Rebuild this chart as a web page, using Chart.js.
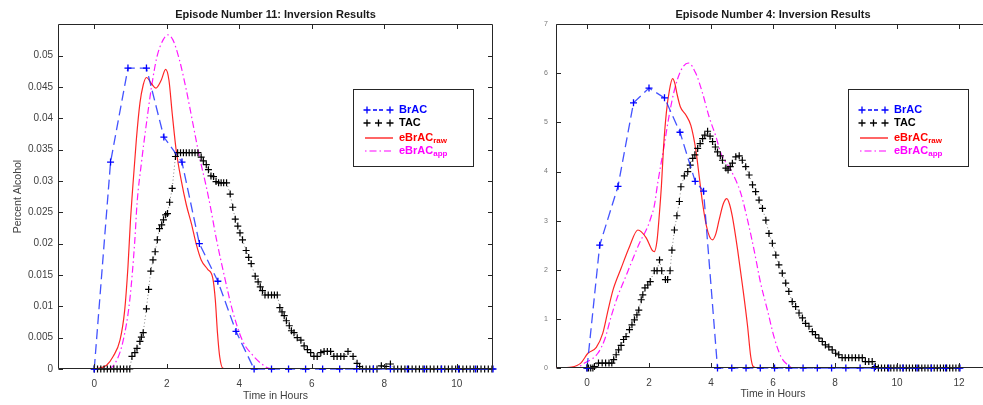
<!DOCTYPE html>
<html>
<head>
<meta charset="utf-8">
<script src="https://cdn.jsdelivr.net/npm/chart.js@4.4.0/dist/chart.umd.min.js"></script>
<style>
  html, body { margin: 0; padding: 0; background: #fff; overflow: hidden; width: 983px; height: 405px; }
  .box { position: absolute; top: 0; width: 500px; height: 405px; }
  #leftBox { left: 0; }
  #rightBox { left: 500px; }
</style>
</head>
<body>
<div class="box" id="leftBox"><canvas id="ep11" width="500" height="405"></canvas></div>
<div class="box" id="rightBox"><canvas id="ep4" width="500" height="405"></canvas></div>
<script>
// EPISODE 11 (LEFT PANEL)
const brac11Time = [0, 0.45, 0.93, 1.44, 1.92, 2.42, 2.90, 3.41, 3.91, 4.41, 4.89, 5.36, 5.83, 6.30, 6.77, 7.24, 7.70, 8.17, 8.64, 9.11, 9.58, 10.05, 10.52, 11.0];
const brac11 = [0, 0.033, 0.048, 0.048, 0.037, 0.033, 0.020, 0.014, 0.006, 0, 0, 0, 0, 0, 0, 0, 0, 0, 0, 0, 0, 0, 0, 0];

const tac11Time = [0, 0.09, 0.18, 0.27, 0.36, 0.45, 0.54, 0.63, 0.72, 0.81, 0.90, 0.98,
  1.04, 1.12, 1.18, 1.26, 1.30, 1.35, 1.44, 1.50, 1.56, 1.62, 1.68, 1.74, 1.80, 1.86, 1.91, 1.97, 2.02, 2.08, 2.15, 2.24,
  2.30, 2.38, 2.46, 2.54, 2.62, 2.70, 2.78, 2.86,
  2.95, 3.01, 3.09, 3.15, 3.22, 3.29, 3.36, 3.43, 3.50, 3.57, 3.65, 3.75, 3.82, 3.89, 3.96, 4.02, 4.09, 4.19, 4.26, 4.33, 4.44, 4.52, 4.58, 4.64,
  4.71, 4.80, 4.89, 4.97, 5.05,
  5.12, 5.18, 5.24, 5.30, 5.38, 5.44, 5.51, 5.60, 5.70, 5.79, 5.88, 5.97, 6.06, 6.15, 6.25, 6.34, 6.43, 6.52, 6.61, 6.70, 6.80, 6.89, 7.00, 7.14, 7.25, 7.32,
  7.40, 7.50, 7.60, 7.70, 7.80, 7.92, 8.05, 8.17, 8.27, 8.37, 8.47, 8.57, 8.67, 8.77, 8.87, 8.97, 9.07, 9.17, 9.27, 9.37, 9.47, 9.57, 9.67, 9.77, 9.87, 9.97,
  10.07, 10.17, 10.27, 10.37, 10.47, 10.57, 10.67, 10.77, 10.87, 10.97];
const tac11 = [0, 0, 0, 0, 0, 0, 0, 0, 0, 0, 0, 0,
  0.0020, 0.0026, 0.0033, 0.0044, 0.0051, 0.0058, 0.0096, 0.0127, 0.0156, 0.0174, 0.0187, 0.0206, 0.0224, 0.0230, 0.0238, 0.0246, 0.0248, 0.0266, 0.0288, 0.0339,
  0.0345, 0.0345, 0.0345, 0.0345, 0.0345, 0.0345, 0.0345, 0.0345,
  0.0338, 0.0332, 0.0326, 0.0318, 0.0308, 0.0307, 0.0299, 0.0297, 0.0297, 0.0297, 0.0297, 0.0279, 0.0258, 0.0239, 0.0228, 0.0217, 0.0206, 0.0189, 0.0178, 0.0168, 0.0148, 0.0139, 0.0131, 0.0125,
  0.0118, 0.0118, 0.0118, 0.0118, 0.0118,
  0.0098, 0.0091, 0.0085, 0.0077, 0.0069, 0.0061, 0.0058, 0.0050, 0.0046, 0.0037, 0.0031, 0.0026, 0.0020, 0.0020, 0.0026, 0.0028, 0.0028, 0.0028, 0.0020, 0.0020, 0.0020, 0.0020, 0.0028, 0.0020, 0.0009, 0.0004,
  0, 0, 0, 0, 0, 0.0005, 0.0004, 0.0008, 0, 0, 0, 0, 0, 0, 0, 0, 0, 0, 0, 0, 0, 0, 0, 0, 0, 0,
  0, 0, 0, 0, 0, 0, 0, 0, 0, 0];

const raw11Time = [0, 0.34, 0.52, 0.71, 0.84, 0.93, 1.00, 1.05, 1.16, 1.26, 1.35, 1.44, 1.58, 1.70, 1.85, 1.97, 2.06, 2.15, 2.26, 2.40, 2.54, 2.68, 2.81, 2.95, 3.13, 3.27, 3.34, 3.40, 3.46, 3.55, 3.70, 11.0];
const raw11 = [0, 0.0006, 0.0020, 0.0046, 0.0094, 0.0163, 0.0238, 0.0280, 0.0365, 0.0424, 0.0453, 0.0465, 0.0455, 0.0448, 0.0461, 0.0478, 0.0461, 0.0408, 0.0349, 0.0301, 0.0262, 0.0232, 0.0200, 0.0174, 0.0159, 0.0145, 0.0110, 0.0057, 0.0020, 0.0001, 0, 0];

const app11Time = [0, 0.38, 0.62, 0.80, 0.98, 1.12, 1.18, 1.30, 1.44, 1.58, 1.73, 1.90, 2.03, 2.17, 2.35, 2.54, 2.72, 2.90, 3.09, 3.22, 3.36, 3.59, 3.82, 4.09, 4.37, 4.60, 4.82, 5.00, 11.0];
const app11 = [0, 0, 0.0014, 0.0046, 0.0110, 0.0206, 0.0264, 0.0328, 0.0392, 0.0450, 0.0498, 0.0525, 0.0533, 0.0525, 0.0493, 0.0445, 0.0392, 0.0339, 0.0291, 0.0254, 0.0210, 0.0148, 0.0092, 0.0045, 0.0022, 0.0009, 0.0001, 0, 0];

const xTicks11 = [0, 2, 4, 6, 8, 10];
const yTicks11 = [0, 0.005, 0.01, 0.015, 0.02, 0.025, 0.03, 0.035, 0.04, 0.045, 0.05];

// EPISODE 4 (RIGHT PANEL)
const brac4Time = [0, 0.41, 1.0, 1.5, 2.0, 2.5, 3.0, 3.49, 3.76, 4.21, 4.67, 5.13, 5.59, 6.05, 6.51, 6.97, 7.43, 7.89, 8.35, 8.81, 9.27, 9.73, 10.19, 10.65, 11.11, 11.57, 12.03];
const brac4 = [0, 0.025, 0.037, 0.054, 0.057, 0.055, 0.048, 0.038, 0.036, 0, 0, 0, 0, 0, 0, 0, 0, 0, 0, 0, 0, 0, 0, 0, 0, 0, 0];

const tac4Time = [0, 0.05, 0.12, 0.19, 0.24, 0.37, 0.49, 0.60, 0.71, 0.80, 0.86, 0.94, 1.02, 1.10, 1.18, 1.26, 1.37, 1.45, 1.53, 1.61, 1.67, 1.75, 1.80, 1.87, 1.96, 2.04,
  2.17, 2.26, 2.34, 2.41, 2.53, 2.60, 2.68, 2.74, 2.82, 2.90, 2.98, 3.03, 3.14, 3.25, 3.33, 3.41, 3.48, 3.57, 3.65, 3.73, 3.80, 3.89, 3.97,
  4.05, 4.14, 4.21, 4.30, 4.37, 4.48, 4.55, 4.62, 4.69, 4.80, 4.91, 5.01, 5.12, 5.23, 5.34, 5.44, 5.55, 5.66, 5.77, 5.87, 5.98,
  6.09, 6.19, 6.30, 6.41, 6.51, 6.62, 6.73, 6.84, 6.95, 7.05, 7.16, 7.27, 7.37, 7.48, 7.59, 7.69, 7.80, 7.91, 8.02, 8.12, 8.23,
  8.33, 8.44, 8.55, 8.66, 8.77, 8.88, 8.98, 9.09, 9.20, 9.30,
  9.4, 9.5, 9.6, 9.7, 9.8, 9.9, 10.0, 10.1, 10.2, 10.3, 10.4, 10.5, 10.6, 10.7, 10.8, 10.9, 11.0, 11.1, 11.2, 11.3, 11.4, 11.5, 11.6, 11.7, 11.8, 11.9, 12.0];
const tac4 = [0, 0, 0, 0, 0.0003, 0.001, 0.001, 0.001, 0.001, 0.001, 0.0017, 0.0027, 0.0037, 0.0046, 0.0058, 0.0064, 0.0078, 0.0088, 0.0098, 0.0108, 0.0118, 0.0139, 0.0149, 0.0163, 0.0169, 0.0176,
  0.0198, 0.0198, 0.0220, 0.0198, 0.0180, 0.0180, 0.0198, 0.0240, 0.0281, 0.0310, 0.0339, 0.0369, 0.0391, 0.0400, 0.0413, 0.0427, 0.0434, 0.0447, 0.0457, 0.0467, 0.0474, 0.0482, 0.0472,
  0.0461, 0.0450, 0.0440, 0.0432, 0.0423, 0.0407, 0.0403, 0.0410, 0.0417, 0.0430, 0.0432, 0.0423, 0.0410, 0.0393, 0.0373, 0.0359, 0.0342, 0.0325, 0.0301, 0.0274, 0.0254,
  0.0230, 0.0210, 0.0193, 0.0173, 0.0156, 0.0135, 0.0125, 0.0112, 0.0102, 0.0091, 0.0085, 0.0074, 0.0068, 0.0061, 0.0054, 0.0047, 0.0043, 0.0037, 0.0030, 0.0027, 0.0021,
  0.0021, 0.0021, 0.0021, 0.0021, 0.0021, 0.0021, 0.0013, 0.0013, 0.0013, 0.0003,
  0, 0, 0, 0, 0, 0, 0, 0, 0, 0, 0, 0, 0, 0, 0, 0, 0, 0, 0, 0, 0, 0, 0, 0, 0, 0, 0];

const raw4Time = [-1, -0.5, -0.2, 0.03, 0.30, 0.51, 0.68, 0.84, 1.10, 1.37, 1.64, 1.91, 2.10, 2.17, 2.26, 2.33, 2.40, 2.47, 2.56, 2.66, 2.76, 2.84, 2.90, 3.01, 3.19, 3.35, 3.51, 3.62, 3.73, 3.85, 3.95, 4.05, 4.15, 4.26, 4.40, 4.51, 4.60, 4.69, 4.86, 5.02, 5.18, 5.28, 5.36, 5.50, 13.0];
const raw4 = [0, 0.0002, 0.0010, 0.0030, 0.0042, 0.0071, 0.0118, 0.0159, 0.0203, 0.0247, 0.0281, 0.0265, 0.0240, 0.0237, 0.0260, 0.0310, 0.0370, 0.0450, 0.0520, 0.0566, 0.0589, 0.0578, 0.0559, 0.0532, 0.0515, 0.0494, 0.0444, 0.0390, 0.0335, 0.0290, 0.0268, 0.0261, 0.0272, 0.0301, 0.0335, 0.0345, 0.0333, 0.0308, 0.0240, 0.0166, 0.0085, 0.0024, 0.0003, 0, 0];

const app4Time = [-1, -0.4, -0.08, 0.35, 0.57, 0.78, 0.99, 1.21, 1.42, 1.69, 1.96, 2.07, 2.17, 2.28, 2.50, 2.66, 2.82, 3.03, 3.27, 3.51, 3.73, 3.94, 4.16, 4.32, 4.64, 4.96, 5.18, 5.39, 5.60, 5.82, 6.03, 6.25, 6.46, 6.70, 13.0];
const app4 = [0, 0, 0.0010, 0.0030, 0.0058, 0.0105, 0.0146, 0.0180, 0.0213, 0.0254, 0.0288, 0.0308, 0.0330, 0.0376, 0.0457, 0.0518, 0.0566, 0.0606, 0.0621, 0.0600, 0.0559, 0.0511, 0.0471, 0.0437, 0.0403, 0.0356, 0.0301, 0.0240, 0.0173, 0.0118, 0.0064, 0.0024, 0.0007, 0, 0];

const xTicks4 = [0, 2, 4, 6, 8, 10, 12];
const yTicks4 = [0, 0.01, 0.02, 0.03, 0.04, 0.05, 0.06, 0.07];

const seriesNames = ['BrAC', 'TAC', 'eBrAC', 'eBrAC'];
const seriesSubs = ['', '', 'raw', 'app'];
const seriesColors = ['#0000ff', '#000000', '#ff0000', '#ff00ff'];

Chart.defaults.font.family = "'Liberation Sans', Arial, Helvetica, sans-serif";

function pts(times, values) {
    return times.map((t, i) => ({ x: t, y: values[i] }));
}

// DRAW MATLAB STYLE BOX, INWARD TICKS AND LEGEND
const matlabFrame = {
    id: 'matlabFrame',
    afterDatasetsDraw(chart) {
        const { ctx, chartArea: a, scales: { x, y } } = chart;
        const L = Math.round(a.left) + 0.5, R = Math.round(a.right) - 0.5;
        const T = Math.round(a.top) + 0.5, B = Math.round(a.bottom) - 0.5;
        ctx.save();
        ctx.strokeStyle = '#262626';
        ctx.lineWidth = 1;
        ctx.beginPath();
        ctx.rect(L, T, R - L, B - T);
        x.ticks.forEach(t => {
            const px = Math.round(x.getPixelForValue(t.value)) + 0.5;
            ctx.moveTo(px, B); ctx.lineTo(px, B - 4.5);
            ctx.moveTo(px, T); ctx.lineTo(px, T + 4.5);
        });
        y.ticks.forEach(t => {
            const py = Math.round(y.getPixelForValue(t.value)) + 0.5;
            ctx.moveTo(L, py); ctx.lineTo(L + 4.5, py);
            ctx.moveTo(R, py); ctx.lineTo(R - 4.5, py);
        });
        ctx.stroke();
        ctx.restore();
    },
    afterDraw(chart, args, opts) {
        const ctx = chart.ctx;
        const bx = opts.x, by = opts.y, sx = bx + 12, tx = bx + 46;
        const rows = [by + 21, by + 34, by + 49, by + 62];
        ctx.save();
        ctx.fillStyle = '#fff';
        ctx.fillRect(bx, by, 120, 77);
        ctx.strokeStyle = '#262626';
        ctx.lineWidth = 1;
        ctx.strokeRect(bx + 0.5, by + 0.5, 120, 77);

        const cross = (cx, cy, color) => {
            ctx.strokeStyle = color;
            ctx.lineWidth = 1.3;
            ctx.beginPath();
            ctx.moveTo(cx - 3.5, cy); ctx.lineTo(cx + 3.5, cy);
            ctx.moveTo(cx, cy - 3.5); ctx.lineTo(cx, cy + 3.5);
            ctx.stroke();
        };
        // BrAC
        cross(sx + 2, rows[0], seriesColors[0]);
        cross(sx + 25, rows[0], seriesColors[0]);
        ctx.setLineDash([4, 2]);
        ctx.beginPath(); ctx.moveTo(sx + 8, rows[0]); ctx.lineTo(sx + 19, rows[0]); ctx.stroke();
        ctx.setLineDash([]);
        // TAC
        cross(sx + 2, rows[1], seriesColors[1]);
        cross(sx + 13.5, rows[1], seriesColors[1]);
        cross(sx + 25, rows[1], seriesColors[1]);
        // raw
        ctx.strokeStyle = seriesColors[2]; ctx.lineWidth = 1.2;
        ctx.beginPath(); ctx.moveTo(sx, rows[2]); ctx.lineTo(sx + 28, rows[2]); ctx.stroke();
        // app
        ctx.strokeStyle = seriesColors[3];
        ctx.setLineDash([1.5, 3, 7, 3]);
        ctx.beginPath(); ctx.moveTo(sx, rows[3]); ctx.lineTo(sx + 28, rows[3]); ctx.stroke();
        ctx.setLineDash([]);

        ctx.textBaseline = 'middle';
        ctx.textAlign = 'left';
        rows.forEach((ry, i) => {
            ctx.fillStyle = seriesColors[i];
            ctx.font = "bold 11px 'Liberation Sans', Arial, sans-serif";
            ctx.fillText(seriesNames[i], tx, ry);
            if (seriesSubs[i]) {
                const w = ctx.measureText(seriesNames[i]).width;
                ctx.font = "bold 8px 'Liberation Sans', Arial, sans-serif";
                ctx.fillText(seriesSubs[i], tx + w, ry + 3);
            }
        });
        ctx.restore();
    }
};

function buildChart(canvasId, cfg) {
    const ctx = document.getElementById(canvasId);
    return new Chart(ctx, {
        type: 'line',
        data: {
            datasets: [{
                data: pts(cfg.brac[0], cfg.brac[1]),
                borderColor: 'rgba(20,40,255,0.8)',
                borderWidth: 1.3,
                borderDash: [10, 5],
                pointStyle: 'cross',
                pointRadius: 3.5,
                pointBorderWidth: 1.3,
                pointBorderColor: '#0000ff',
                tension: 0,
                clip: false
            }, {
                data: pts(cfg.tac[0], cfg.tac[1]),
                borderColor: '#666',
                borderWidth: 0.8,
                borderDash: [1, 2.5],
                pointStyle: 'cross',
                pointRadius: 3.5,
                pointBorderWidth: 1.2,
                pointBorderColor: '#000',
                tension: 0,
                clip: false
            }, {
                data: pts(cfg.raw[0], cfg.raw[1]),
                borderColor: 'rgba(255,0,0,0.85)',
                borderWidth: 1.2,
                pointRadius: 0,
                cubicInterpolationMode: 'monotone'
            }, {
                data: pts(cfg.app[0], cfg.app[1]),
                borderColor: 'rgba(255,0,255,0.9)',
                borderWidth: 1.2,
                borderDash: [7, 3, 1.5, 3],
                pointRadius: 0,
                cubicInterpolationMode: 'monotone'
            }]
        },
        options: {
            responsive: false,
            animation: false,
            devicePixelRatio: 1,
            events: [],
            layout: { padding: { left: 0, right: cfg.padRight, top: 0, bottom: 0 } },
            plugins: {
                legend: { display: false },
                tooltip: { enabled: false },
                title: {
                    display: true,
                    text: cfg.title,
                    fullSize: false,
                    color: '#1a1a1a',
                    font: { size: 11, weight: 'bold', lineHeight: 1.2 },
                    padding: { top: 8, bottom: 3 }
                },
                matlabFrame: { x: cfg.legendX, y: 89 }
            },
            scales: {
                x: {
                    type: 'linear',
                    min: cfg.xMin,
                    max: cfg.xMax,
                    afterBuildTicks: s => { s.ticks = cfg.xTicks.map(v => ({ value: v })); },
                    afterFit: s => { s.height = cfg.xHeight; },
                    grid: { display: false, drawTicks: false },
                    border: { display: false },
                    ticks: { color: '#404040', font: { size: 10 }, padding: 9, maxRotation: 0, autoSkip: false },
                    title: {
                        display: true,
                        text: 'Time in Hours',
                        color: '#404040',
                        font: { size: 10.5 },
                        padding: { top: 0, bottom: cfg.xTitlePad }
                    }
                },
                y: {
                    min: 0,
                    max: cfg.yMax,
                    afterBuildTicks: s => { s.ticks = cfg.yTicks.map(v => ({ value: v })); },
                    afterFit: s => { s.width = cfg.yWidth; },
                    grid: { display: false, drawTicks: false },
                    border: { display: false },
                    ticks: cfg.yTickOpts,
                    title: cfg.yTitle
                }
            }
        },
        plugins: [matlabFrame]
    });
}

buildChart('ep11', {
    title: 'Episode Number 11: Inversion Results',
    brac: [brac11Time, brac11], tac: [tac11Time, tac11], raw: [raw11Time, raw11], app: [app11Time, app11],
    xMin: -1, xMax: 11, yMax: 0.055, xTicks: xTicks11, yTicks: yTicks11,
    padRight: 7, xHeight: 36, yWidth: 58, xTitlePad: 3, legendX: 353,
    yTickOpts: { color: '#404040', font: { size: 10 }, padding: 5, autoSkip: false, callback: v => String(v) },
    yTitle: { display: true, text: 'Percent Alcohol', color: '#404040', font: { size: 10.5 }, padding: { top: 12, bottom: 0 } }
});

buildChart('ep4', {
    title: 'Episode Number 4: Inversion Results',
    brac: [brac4Time, brac4], tac: [tac4Time, tac4], raw: [raw4Time, raw4], app: [app4Time, app4],
    xMin: -1, xMax: 13, yMax: 0.07, xTicks: xTicks4, yTicks: yTicks4,
    padRight: 10, xHeight: 37, yWidth: 56, xTitlePad: 5, legendX: 348,
    yTickOpts: { color: '#777', font: { size: 7 }, padding: 8, autoSkip: false, callback: v => String(Math.round(v * 100)) },
    yTitle: { display: false }
});
</script>
</body>
</html>
